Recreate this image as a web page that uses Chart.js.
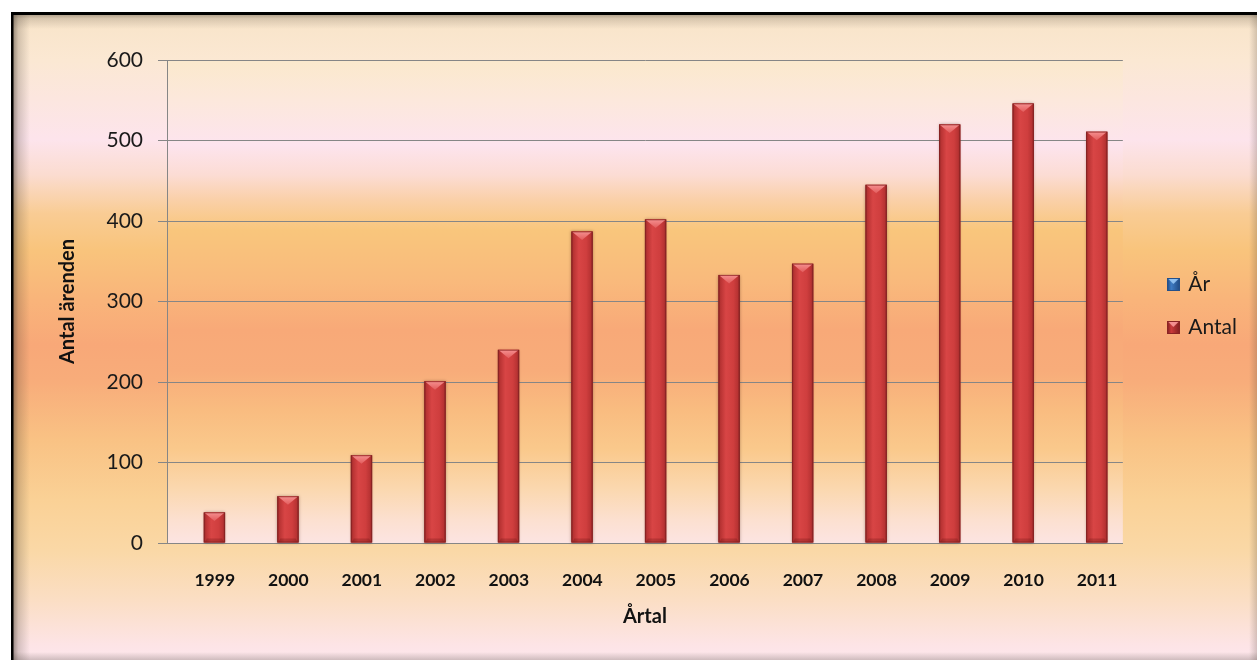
<!DOCTYPE html>
<html>
<head>
<meta charset="utf-8">
<script src="https://cdn.jsdelivr.net/npm/chart.js@4.4.1/dist/chart.umd.min.js"></script>
<style>
  html, body { margin: 0; padding: 0; background: #fff; overflow: hidden; }
  #wrap { position: relative; width: 1257px; height: 660px; }
</style>
</head>
<body>
<div id="wrap"><canvas id="chart" width="1257" height="660"></canvas></div>
<script>
// Antal ärenden per år
const categories = ['1999', '2000', '2001', '2002', '2003', '2004', '2005',
                    '2006', '2007', '2008', '2009', '2010', '2011'];
const arValues = [];
const antalValues = [38, 58, 109, 201, 240, 387, 402, 333, 347, 445, 520, 546, 511];
const yMin = 0;
const yMax = 600;
const yStep = 100;

const FONT = 'Lato';

// Small bevelled squares used as legend markers
function swatch(main, light, dark) {
  const c = document.createElement('canvas');
  c.width = 13; c.height = 13;
  const g = c.getContext('2d');
  g.fillStyle = dark; g.fillRect(0, 0, 13, 13);
  const body = g.createLinearGradient(1, 0, 12, 0);
  body.addColorStop(0, dark); body.addColorStop(0.3, main); body.addColorStop(1, dark);
  g.fillStyle = body; g.fillRect(1, 1, 11, 11);
  g.beginPath(); g.moveTo(1.5, 1); g.lineTo(11.5, 1); g.lineTo(6.5, 6); g.closePath();
  g.fillStyle = light; g.fill();
  return c;
}
const blueMarker = swatch('#3f7cc4', '#8fc0f0', '#24508a');
const redMarker = swatch('#cc3b3b', '#f49090', '#8a2424');

// Page backdrop: framed gradient panel plus the plot-area gradient
const backdrop = {
  id: 'backdrop',
  beforeDraw(chart) {
    const { ctx, width, height, chartArea: ca } = chart;
    ctx.save();
    ctx.fillStyle = '#ffffff';
    ctx.fillRect(0, 0, width, height);

    const fx = 12, fy = 13;
    const fg = ctx.createLinearGradient(0, fy, 0, height);
    [[0, '#f8e4c8'], [0.073, '#fbe8d3'], [0.196, '#fde4ec'], [0.25, '#fbdcd0'],
     [0.31, '#f9cc94'], [0.366, '#f9c47c'], [0.444, '#f9b47a'], [0.513, '#f8a878'],
     [0.567, '#f8ac7a'], [0.66, '#f9c284'], [0.753, '#fad196'], [0.83, '#fad8a6'],
     [0.907, '#fbdec4'], [0.977, '#fde4e6'], [1, '#fde6ec']]
      .forEach(([o, c]) => fg.addColorStop(o, c));
    ctx.fillStyle = fg;
    ctx.fillRect(fx, fy, width - fx, height - fy);

    // inner shadows of the frame
    let sg = ctx.createLinearGradient(fx, 0, fx + 18, 0);
    sg.addColorStop(0, 'rgba(70,60,50,0.6)');
    sg.addColorStop(0.35, 'rgba(70,60,50,0.22)');
    sg.addColorStop(1, 'rgba(70,60,50,0)');
    ctx.fillStyle = sg; ctx.fillRect(fx, fy, 18, height - fy);
    sg = ctx.createLinearGradient(0, fy, 0, fy + 16);
    sg.addColorStop(0, 'rgba(70,60,50,0.5)');
    sg.addColorStop(0.35, 'rgba(70,60,50,0.18)');
    sg.addColorStop(1, 'rgba(70,60,50,0)');
    ctx.fillStyle = sg; ctx.fillRect(fx, fy, width - fx, 16);
    sg = ctx.createLinearGradient(width, 0, width - 8, 0);
    sg.addColorStop(0, 'rgba(70,60,50,0.22)');
    sg.addColorStop(1, 'rgba(70,60,50,0)');
    ctx.fillStyle = sg; ctx.fillRect(width - 8, fy, 8, height - fy);
    sg = ctx.createLinearGradient(0, height, 0, height - 8);
    sg.addColorStop(0, 'rgba(70,60,50,0.25)');
    sg.addColorStop(1, 'rgba(70,60,50,0)');
    ctx.fillStyle = sg; ctx.fillRect(fx, height - 8, width - fx, 8);

    // frame line
    ctx.fillStyle = '#000';
    ctx.fillRect(11, 12, width - 11, 3);
    ctx.fillRect(11, 12, 2.5, height - 12);

    // plot area
    const pg = ctx.createLinearGradient(0, ca.top, 0, ca.bottom);
    [[0, '#fbe9cc'], [0.083, '#fce8dc'], [0.176, '#fde4ee'], [0.238, '#fcdcd4'],
     [0.29, '#fad0a8'], [0.352, '#f9c67c'], [0.455, '#f9ba7c'], [0.559, '#f8a978'],
     [0.642, '#f8ac7a'], [0.725, '#f9bc80'], [0.807, '#fac98c'], [0.89, '#fbd8b0'],
     [0.952, '#fce0d0'], [1, '#fce4e2']]
      .forEach(([o, c]) => pg.addColorStop(o, c));
    ctx.fillStyle = pg;
    ctx.fillRect(ca.left, ca.top, ca.right - ca.left, ca.bottom - ca.top);
    ctx.restore();
  }
};

// Bevelled, shaded look for the columns, drawn over each bar element
const barShade = {
  id: 'barShade',
  afterDatasetsDraw(chart) {
    const ctx = chart.ctx;
    chart.data.datasets.forEach((ds, di) => {
      const meta = chart.getDatasetMeta(di);
      if (meta.hidden || !ds.shade) return;
      const s = ds.shade;
      meta.data.forEach(bar => {
        const { x, y, base, width } = bar.getProps(['x', 'y', 'base', 'width'], true);
        if (y == null || isNaN(y)) return;
        const l = x - width / 2, r = x + width / 2, h = base - y;
        ctx.save();
        ctx.shadowColor = 'rgba(60,20,10,0.35)';
        ctx.shadowBlur = 3;
        const g = ctx.createLinearGradient(l, 0, r, 0);
        g.addColorStop(0, s.edge); g.addColorStop(0.1, s.side); g.addColorStop(0.35, s.light);
        g.addColorStop(0.7, s.main); g.addColorStop(0.9, s.side); g.addColorStop(1, s.edge);
        ctx.fillStyle = g;
        ctx.fillRect(l, y, width, h);
        ctx.shadowColor = 'transparent';
        const bev = Math.min(width * 0.4, h / 2);
        ctx.beginPath();
        ctx.moveTo(l + 1, y + 0.5); ctx.lineTo(r - 1, y + 0.5); ctx.lineTo(x, y + bev); ctx.closePath();
        const tg = ctx.createLinearGradient(0, y, 0, y + bev);
        tg.addColorStop(0, s.top); tg.addColorStop(1, s.topEnd);
        ctx.fillStyle = tg; ctx.fill();
        ctx.beginPath();
        ctx.moveTo(l + 1, base); ctx.lineTo(r - 1, base); ctx.lineTo(r - 3, base - 4); ctx.lineTo(l + 3, base - 4); ctx.closePath();
        ctx.fillStyle = 'rgba(90,10,10,0.25)'; ctx.fill();
        ctx.strokeStyle = 'rgba(120,30,30,0.55)'; ctx.lineWidth = 1;
        ctx.strokeRect(l + 0.5, y + 0.5, width - 1, h - 1);
        ctx.restore();
      });
    });
  }
};

// Moves the legend block into its place beside the plot
const legendPlace = {
  id: 'legendPlace',
  afterLayout(chart) {
    const lg = chart.legend;
    if (!lg) return;
    lg.left += 24; lg.right += 24;
    lg.top += 4.5; lg.bottom += 4.5;
  }
};

function build() {
  new Chart(document.getElementById('chart'), {
    type: 'bar',
    data: {
      labels: categories,
      datasets: [
        { label: 'År', data: arValues, backgroundColor: '#3f7cc4', borderWidth: 0,
          pointStyle: blueMarker },
        { label: 'Antal', data: antalValues, backgroundColor: '#c83a3a', borderWidth: 0,
          pointStyle: redMarker,
          shade: { edge: '#8e2626', side: '#b83333', light: '#d84545', main: '#cf3e3e',
                   top: '#f69090', topEnd: '#e25c5c' } }
      ]
    },
    options: {
      responsive: false,
      animation: false,
      devicePixelRatio: 1,
      categoryPercentage: 0.58,
      barPercentage: 1.0,
      layout: { padding: { left: 52, top: 60, right: 34, bottom: 27 } },
      scales: {
        x: {
          grid: { display: false },
          border: { display: true, color: '#868686', width: 1 },
          ticks: { font: { family: FONT, size: 17.5, weight: 'bold' }, color: '#111',
                   padding: 19, labelOffset: 11, maxRotation: 0, autoSkip: false },
          title: { display: true, text: 'Årtal', color: '#111',
                   font: { family: FONT, size: 20, weight: 'bold' }, padding: { top: 4, bottom: 4 } },
          afterFit(scale) { scale.height = 90; }
        },
        y: {
          min: yMin, max: yMax,
          ticks: { stepSize: yStep, font: { family: FONT, size: 21 }, color: '#1a1a1a', padding: 15 },
          grid: { color: '#868686', lineWidth: 1, tickLength: 9 },
          border: { color: '#868686', width: 1 },
          title: { display: true, text: 'Antal ärenden', color: '#111',
                   font: { family: FONT, size: 20, weight: 'bold' }, padding: { top: 4, bottom: 4 } },
          afterFit(scale) { scale.width = 115; }
        }
      },
      plugins: {
        legend: {
          position: 'right',
          fullSize: false,
          labels: { usePointStyle: true, pointStyleWidth: 9, boxHeight: 13, padding: 22,
                    font: { family: FONT, size: 21 }, color: '#1a1a1a' }
        },
        tooltip: { enabled: false }
      }
    },
    plugins: [backdrop, barShade, legendPlace]
  });
}

const fontLoads = [`21px ${FONT}`, `bold 20px ${FONT}`, `bold 17.5px ${FONT}`]
  .map(f => document.fonts.load(f).catch(() => null));
Promise.all(fontLoads).then(build, build);
</script>
</body>
</html>
